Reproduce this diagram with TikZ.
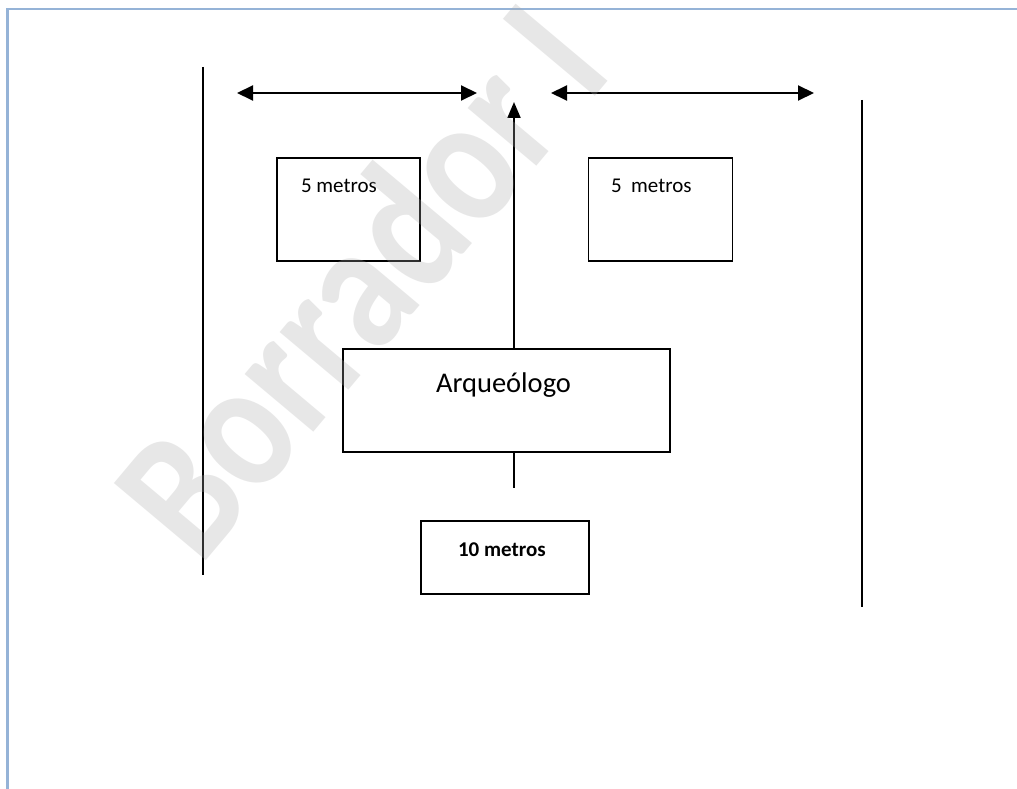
\documentclass[tikz,border=0pt]{standalone}
\usepackage{fontspec}
\setmainfont{Carlito}
\usetikzlibrary{arrows.meta}
\definecolor{framecol}{RGB}{149,179,215}
\definecolor{wmcol}{RGB}{170,170,170}
\begin{document}
\begin{tikzpicture}[x=1pt,y=-1pt,
  boxstyle/.style={draw=black,line width=1.8pt,inner sep=0pt,outer sep=0pt,rectangle},
  txt/.style={inner sep=0pt,outer sep=0pt,anchor=base west,font=\fontsize{21}{25}\selectfont},
  lineb/.style={line width=1.8pt,black},
  dimarrow/.style={line width=2pt,black,{Triangle[length=16pt,width=15pt]}-{Triangle[length=16pt,width=15pt]}},
  uparrow/.style={line width=2pt,black,-{Triangle[length=16pt,width=13pt]}},
  framestyle/.style={line width=2.5pt,framecol},
  wm/.style={inner sep=0pt,anchor=base west,rotate=50,text=wmcol,opacity=0.28,font=\bfseries\fontsize{185}{185}\selectfont}
]
\useasboundingbox (0,0) rectangle (1017,789);
\clip (0,0) rectangle (1017,789);
\fill[white] (0,0) rectangle (1017,789);
% frame
\coordinate (fTL) at (7.5,9);
\coordinate (fTR) at (1017,9);
\coordinate (fBL) at (7.5,789);
\draw[framestyle] (fTR) -- (fTL) -- (fBL);
% side lines
\coordinate (lt) at (203,67);
\coordinate (lb) at (203,575);
\coordinate (rt) at (862,100);
\coordinate (rb) at (862,607);
\draw[lineb] (lt) -- (lb);
\draw[lineb] (rt) -- (rb);
% dimension arrows
\coordinate (a1) at (237,93);
\coordinate (a2) at (477,93);
\coordinate (a3) at (551,93);
\coordinate (a4) at (814,93);
\draw[dimarrow] (a1) -- (a2);
\draw[dimarrow] (a3) -- (a4);
% boxes
\node[boxstyle,minimum width=143pt,minimum height=103pt] (b1) at (348.5,209.5) {};
\node[txt] (t1) at (301,192) {5 metros};
\node[boxstyle,minimum width=144pt,minimum height=103pt] (b2) at (660.5,209.5) {};
\node[txt] (t2) at (611,192) {5\ \ metros};
\node[boxstyle,minimum width=327pt,minimum height=103pt] (arq) at (506.5,400.5) {};
\node[txt,font=\fontsize{28.5}{32}\selectfont] (tarq) at (436,392) {Arqueólogo};
\node[boxstyle,minimum width=168pt,minimum height=73pt] (b3) at (505,557.5) {};
\node[txt,font=\bfseries\fontsize{21}{25}\selectfont] (t3) at (458,556) {10 metros};
% arrow up and stub
\coordinate (uptip) at (514,102);
\coordinate (stub) at (514,488);
\draw[uparrow] (arq.north -| uptip) -- (uptip);
\draw[lineb] (arq.south -| stub) -- (stub);
% watermark
\node[wm] (wmark) at (200,568) {\scalebox{0.83}[1]{Borrador I}};
\end{tikzpicture}
\end{document}
